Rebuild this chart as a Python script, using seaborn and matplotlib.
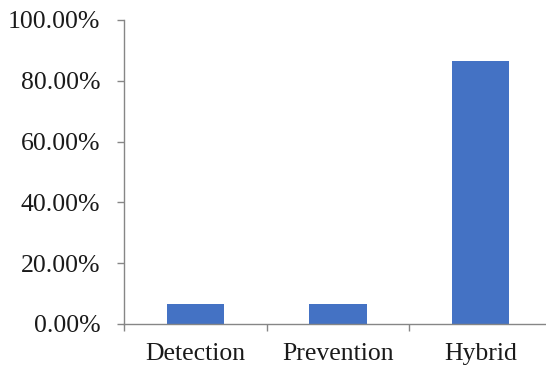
import matplotlib
matplotlib.use("Agg")
import matplotlib.pyplot as plt
import seaborn as sns
import pandas as pd
from matplotlib.ticker import PercentFormatter

# values (percent)
categories = ["Detection", "Prevention", "Hybrid"]
shares = [6.67, 6.67, 86.67]
y_ticks = [0, 20, 40, 60, 80, 100]

df = pd.DataFrame({"approach": categories, "share": shares})

sns.set_style("white")
plt.rcParams["font.family"] = ["Liberation Serif", "DejaVu Serif"]

fig = plt.figure(figsize=(5.46, 3.69), dpi=100)
# the x axis runs past the right edge of the image, as in the original
ax = fig.add_axes([124 / 546, 1 - 324 / 369, (552 - 124) / 546, (324 - 20) / 369])

sns.barplot(data=df, x="approach", y="share", color="#4472C4", width=0.4,
            saturation=1, edgecolor="none", ax=ax)

ax.set_xlim(-0.5, 2.5)
ax.set_ylim(0, 100)
ax.set_yticks(y_ticks)
ax.yaxis.set_major_formatter(PercentFormatter(decimals=2))
ax.set_xlabel("")
ax.set_ylabel("")

# category ticks sit between the bars
ax.set_xticks([-0.5, 0.5, 1.5, 2.5], minor=True)
ax.tick_params(axis="x", which="major", bottom=False, length=0, pad=14, labelsize=18.5,
               labelcolor="#1a1a1a")
ax.tick_params(axis="x", which="minor", bottom=True, length=5, color="#868686", width=1,
               direction="out")
ax.tick_params(axis="y", left=True, length=5, color="#868686", width=1, direction="out",
               labelsize=18.5, pad=12, labelcolor="#1a1a1a")

for side in ["top", "right"]:
    ax.spines[side].set_visible(False)
for side in ["left", "bottom"]:
    ax.spines[side].set_color("#868686")
    ax.spines[side].set_linewidth(1)

fig.savefig("out.png", dpi=100)
